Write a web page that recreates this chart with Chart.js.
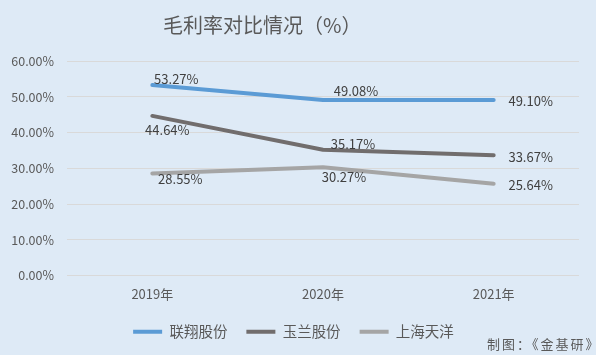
<!DOCTYPE html>
<html><head><meta charset="utf-8">
<script src="https://cdn.jsdelivr.net/npm/chart.js@4"></script>
<style>html,body{margin:0;padding:0;background:#deeaf6;}#wrap{width:596px;height:355px;}</style>
</head><body><div id="wrap"><canvas id="c" width="596" height="355"></canvas></div>
<script>
const categories = ['2019年', '2020年', '2021年'];
const lianxiang = [53.27, 49.08, 49.10];
const yulan = [44.64, 35.17, 33.67];
const tianyang = [28.55, 30.27, 25.64];
const yTicks = [0, 10, 20, 30, 40, 50, 60];
const seriesNames = ['联翔股份', '玉兰股份', '上海天洋'];
const titleText = '毛利率对比情况（%）';
const sourceText = '制图：《金基研》';

const FONT = '"Noto Sans CJK SC", "Noto Sans", sans-serif';
// label offsets (style): [dx, dy] relative to point
const labelOffsets = [
  [[24, -6], [33, -9], [37, 1]],
  [[15, 14], [30, -6], [37, 1.5]],
  [[28, 6], [21, 10], [37, 1]]
];

const labelPlugin = {
  id: 'labels',
  afterDatasetsDraw(chart) {
    const ctx = chart.ctx;
    ctx.save();
    ctx.font = '13px ' + FONT;
    ctx.fillStyle = '#404040';
    ctx.textAlign = 'center';
    ctx.textBaseline = 'middle';
    chart.data.datasets.forEach((ds, i) => {
      const meta = chart.getDatasetMeta(i);
      meta.data.forEach((pt, j) => {
        const off = labelOffsets[i][j];
        ctx.fillText(ds.data[j].toFixed(2) + '%', pt.x + off[0], pt.y + off[1]);
      });
    });
    // title
    ctx.font = '20px ' + FONT;
    ctx.fillStyle = '#595959';
    ctx.textAlign = 'left';
    ctx.fillText(titleText, 163, 25);
    // source
    ctx.font = '13px ' + FONT;
    ctx.letterSpacing = '2px';
    ctx.textAlign = 'left';
    ctx.fillText(sourceText, 487, 344);
    ctx.restore();
  }
};

new Chart(document.getElementById('c'), {
  type: 'line',
  data: {
    labels: categories,
    datasets: [
      { label: seriesNames[0], data: lianxiang, borderColor: '#5b9bd5', backgroundColor: '#5b9bd5', borderWidth: 4 },
      { label: seriesNames[1], data: yulan, borderColor: '#716d6d', backgroundColor: '#716d6d', borderWidth: 4 },
      { label: seriesNames[2], data: tianyang, borderColor: '#a5a5a5', backgroundColor: '#a5a5a5', borderWidth: 4 }
    ]
  },
  options: {
    responsive: false,
    animation: false,
    layout: { padding: { left: 8, right: 17, top: 61, bottom: 6 } },
    elements: {
      line: { borderWidth: 4, tension: 0, borderCapStyle: 'round', borderJoinStyle: 'round' },
      point: { radius: 0, hoverRadius: 0 }
    },
    plugins: {
      title: { display: false },
      legend: {
        position: 'bottom',
        labels: {
          usePointStyle: true,
          pointStyle: 'line',
          pointStyleWidth: 29,
          color: '#595959',
          font: { family: FONT, size: 14.5 },
          padding: 19
        }
      },
      tooltip: { enabled: false }
    },
    scales: {
      x: {
        offset: true,
        grid: { display: false, drawTicks: false },
        border: { display: false },
        afterFit(axis) { axis.height = 30; },
        ticks: { color: '#595959', font: { family: FONT, size: 13 }, padding: 11 }
      },
      y: {
        min: 0, max: 60,
        afterBuildTicks(axis) { axis.ticks = yTicks.map(v => ({ value: v })); },
        afterFit(axis) { axis.width = 59; },
        grid: { color: '#d9d9d9', lineWidth: 1, drawTicks: false },
        border: { display: false },
        ticks: {
          color: '#595959',
          font: { family: FONT, size: 12.5 },
          padding: 13,
          callback: v => v.toFixed(2) + '%'
        }
      }
    }
  },
  plugins: [labelPlugin]
});
</script>
</body></html>
